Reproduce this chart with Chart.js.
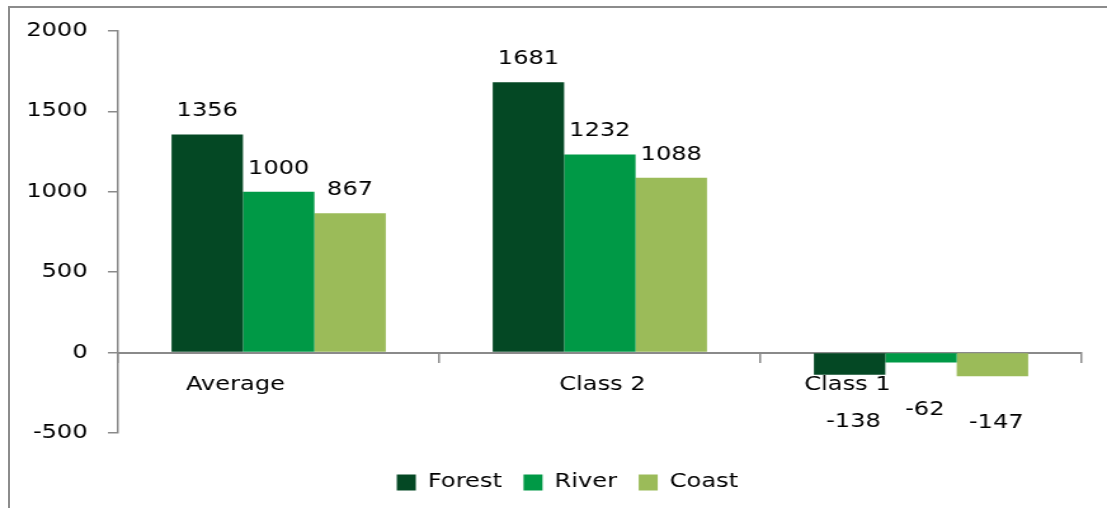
<!DOCTYPE html>
<html>
<head>
<meta charset="utf-8">
<script src="https://cdn.jsdelivr.net/npm/chart.js@4.4.0/dist/chart.umd.min.js"></script>
<style>
  html, body { margin: 0; padding: 0; background: #fff; overflow: hidden; width: 1107px; height: 508px; }
  #frame { position: absolute; left: 8px; top: 6px; width: 1200px; height: 600px;
           border-left: 2px solid #8c8c8c; border-top: 2px solid #8c8c8c; }
  /* chart is laid out narrow and stretched sideways */
  #wrap { position: absolute; left: 0; top: 0; width: 892px; height: 508px;
          transform: scaleX(1.2695); transform-origin: 0 0; }
</style>
</head>
<body>
<div id="frame"></div>
<div id="wrap"><canvas id="myChart"></canvas></div>
<script>
const categories = ['Average', 'Class 2', 'Class 1'];
const forest = [1356, 1681, -138];
const river = [1000, 1232, -62];
const coast = [867, 1088, -147];
const yMin = -500;
const yMax = 2000;
const yStep = 500;

Chart.defaults.font.family = '"DejaVu Sans", Verdana, sans-serif';
Chart.defaults.font.size = 19;
Chart.defaults.color = '#000';

const AXIS_GREY = '#8a8a8a';

// numbers above (or below) each bar
const valueLabels = {
  id: 'valueLabels',
  afterDatasetsDraw(chart) {
    const ctx = chart.ctx;
    ctx.save();
    ctx.font = '19px "DejaVu Sans"';
    ctx.fillStyle = '#000';
    ctx.textAlign = 'center';
    ctx.textBaseline = 'middle';
    chart.data.datasets.forEach((ds, i) => {
      chart.getDatasetMeta(i).data.forEach((bar, j) => {
        const v = ds.data[j];
        if (v >= 0) {
          ctx.fillText(String(v), bar.x, bar.y - 23);
        } else {
          ctx.fillText(String(v), bar.x + 3, bar.y + 47);
        }
      });
    });
    ctx.restore();
  }
};

// category names under the zero line, nudged like the original sheet
const categoryLabels = {
  id: 'categoryLabels',
  afterDraw(chart, args, opts) {
    const ctx = chart.ctx;
    const x = chart.scales.x;
    const y0 = chart.scales.y.getPixelForValue(0);
    ctx.save();
    ctx.font = '19px "DejaVu Sans"';
    ctx.fillStyle = '#000';
    ctx.textAlign = 'center';
    ctx.textBaseline = 'middle';
    chart.data.labels.forEach((lab, i) => {
      ctx.fillText(lab, x.getPixelForValue(i) + (opts.shift[i] || 0), y0 + 32);
    });
    ctx.restore();
  }
};

// legend sits a bit right of the canvas centre
const legendShift = {
  id: 'legendShift',
  afterLayout(chart, args, opts) {
    if (chart.legend) {
      chart.legend.left += opts.dx;
      chart.legend.right += opts.dx;
    }
  }
};

const data = {
  labels: categories,
  datasets: [
    { label: 'Forest', data: forest, backgroundColor: '#044824' },
    { label: 'River', data: river, backgroundColor: '#009946' },
    { label: 'Coast', data: coast, backgroundColor: '#9bbb59' }
  ]
};

const config = {
  type: 'bar',
  data: data,
  options: {
    responsive: true,
    maintainAspectRatio: false,
    animation: false,
    categoryPercentage: 0.667,
    barPercentage: 1.0,
    layout: { padding: { top: 31, left: 0, right: 40, bottom: 6 } },
    plugins: {
      tooltip: { enabled: false },
      title: { display: false },
      legend: {
        position: 'bottom',
        labels: {
          boxWidth: 15,
          boxHeight: 16,
          padding: 17,
          color: '#000',
          font: { size: 19 }
        }
      },
      legendShift: { dx: 21 },
      categoryLabels: { shift: [-34, 2, -58] }
    },
    scales: {
      x: {
        type: 'category',
        position: { y: 0 },
        grid: { offset: true, drawOnChartArea: false, drawTicks: true, tickLength: 9, color: AXIS_GREY, lineWidth: 1.5 },
        border: { display: true, color: AXIS_GREY, width: 2 },
        ticks: { display: false }
      },
      // empty bottom axis that only keeps a gap above the legend
      gap: {
        type: 'category',
        position: 'bottom',
        grid: { display: false, drawTicks: false },
        border: { display: false },
        ticks: { display: false },
        afterFit(scale) { scale.height = 23; }
      },
      y: {
        min: yMin,
        max: yMax,
        grid: { drawOnChartArea: false, drawTicks: true, tickLength: 8, color: AXIS_GREY, lineWidth: 1.5 },
        border: { display: true, color: AXIS_GREY, width: 1.5 },
        ticks: {
          stepSize: yStep,
          padding: 16,
          color: '#000',
          font: { size: 19 },
          callback: (v) => String(v)
        },
        afterFit(scale) { scale.width = 93; }
      }
    }
  },
  plugins: [valueLabels, categoryLabels, legendShift]
};

var myChart = new Chart(document.getElementById('myChart'), config);
</script>
</body>
</html>
